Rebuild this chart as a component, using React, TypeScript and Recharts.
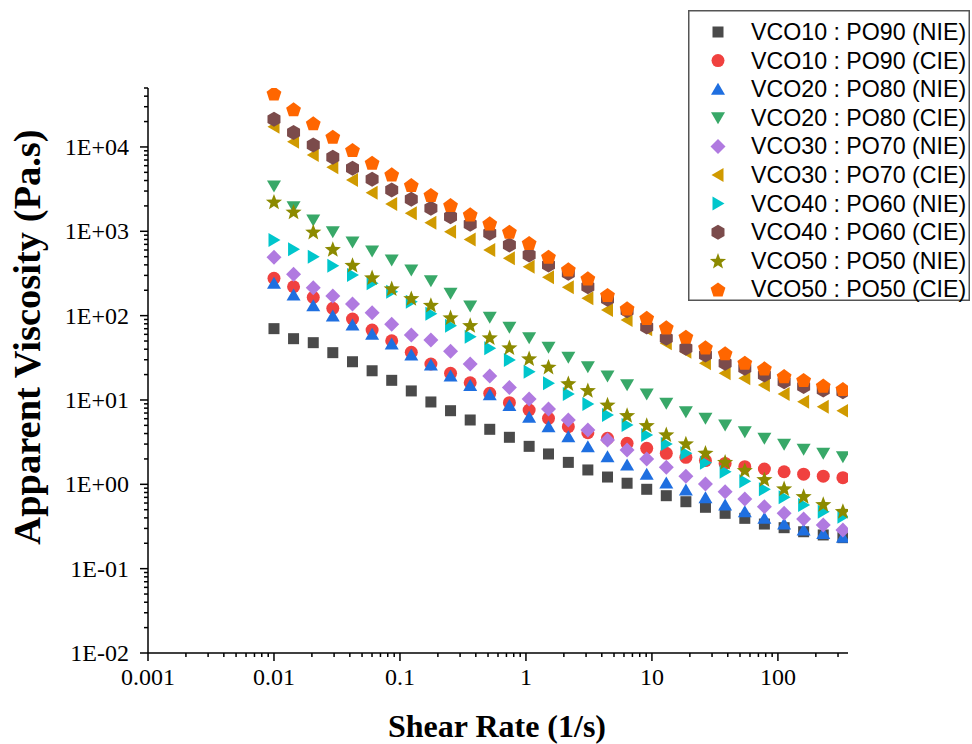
import { Label, Legend, Scatter, ScatterChart, XAxis, YAxis } from "recharts";

// shear rate sweep (1/s), same for every sample
const shearRate = [
  0.01, 0.0143, 0.0205, 0.0293, 0.042, 0.0601, 0.086, 0.123, 0.176, 0.252,
  0.361, 0.516, 0.739, 1.06, 1.51, 2.17, 3.1, 4.44, 6.35, 9.09,
  13.0, 18.6, 26.6, 38.1, 54.6, 78.1, 112, 160, 229, 328,
];

// apparent viscosity (Pa.s)
const vco10po90Nie = [70.1, 53.3, 47.8, 36.4, 28.4, 22.2, 17.1, 12.8, 9.47, 7.46, 5.79, 4.49, 3.61, 2.82, 2.29, 1.82, 1.48, 1.22, 1.03, 0.873, 0.733, 0.622, 0.534, 0.453, 0.395, 0.338, 0.306, 0.274, 0.251, 0.233];
const vco10po90Cie = [277, 220, 165, 122, 91.2, 67.5, 50.4, 36.8, 26.7, 20.7, 16.0, 12.0, 9.28, 7.6, 6.06, 4.82, 4.09, 3.51, 3.06, 2.67, 2.33, 2.09, 1.91, 1.77, 1.62, 1.52, 1.41, 1.32, 1.25, 1.2];
const vco20po80Nie = [242, 176, 131, 99.0, 77.4, 60.1, 46.1, 34.1, 26.0, 19.2, 14.8, 11.5, 8.6, 6.23, 4.82, 3.67, 2.79, 2.12, 1.69, 1.32, 1.04, 0.856, 0.694, 0.568, 0.473, 0.395, 0.338, 0.287, 0.262, 0.235];
const vco20po80Cie = [3445, 1958, 1362, 989, 747, 584, 457, 348, 260, 184, 130, 95.6, 72.7, 54.7, 42.1, 32.1, 24.8, 19.2, 15.2, 11.8, 9.13, 7.26, 6.06, 5.05, 4.2, 3.51, 2.98, 2.6, 2.33, 2.12];
const vco30po70Nie = [492, 309, 214, 171, 137, 108, 78.9, 58.9, 51.4, 37.8, 26.7, 19.2, 14.1, 10.3, 7.81, 5.79, 4.4, 3.35, 2.55, 2.0, 1.59, 1.25, 1.01, 0.817, 0.669, 0.543, 0.453, 0.388, 0.329, 0.287];
const vco30po70Cie = [17400, 11550, 8030, 5740, 4060, 2870, 2110, 1636, 1265, 989, 800, 600, 479, 381, 285, 217, 161, 117, 88.8, 68.9, 47.0, 37.4, 27.2, 20.7, 18.1, 15.0, 11.8, 9.54, 8.32, 7.46];
const vco40po60Nie = [789, 612, 500, 391, 303, 242, 192, 146, 105, 75.8, 56.3, 41.0, 29.8, 21.6, 15.8, 11.8, 8.96, 6.63, 5.05, 3.84, 3.01, 2.33, 1.8, 1.41, 1.09, 0.872, 0.701, 0.568, 0.473, 0.413];
const vco40po60Cie = [21300, 14800, 10550, 7550, 5590, 4140, 3090, 2400, 1875, 1490, 1211, 947, 688, 524, 399, 318, 220, 156, 114, 73.3, 53.9, 41.0, 34.1, 27.2, 23.7, 19.8, 16.5, 14.4, 13.1, 12.5];
const vco50po50Nie = [2245, 1708, 989, 617, 399, 285, 211, 161, 134, 95.6, 77.4, 55.4, 42.1, 31.2, 24.8, 15.8, 13.1, 8.84, 6.63, 5.05, 3.92, 3.06, 2.37, 1.85, 1.48, 1.15, 0.897, 0.727, 0.584, 0.483];
const vco50po50Cie = [43300, 28000, 19100, 13240, 9210, 6510, 4740, 3540, 2700, 2050, 1591, 1245, 989, 727, 500, 354, 277, 176, 122, 94.3, 72.7, 56.3, 42.1, 35.8, 27.7, 23.7, 19.2, 17.3, 14.8, 13.5];

const xMajor = [0.001, 0.01, 0.1, 1, 10, 100];
const xMajorLabels = ["0.001", "0.01", "0.1", "1", "10", "100"];
const yMajor = [0.01, 0.1, 1, 10, 100, 1000, 10000];
const yMajorLabels = ["1E-02", "1E-01", "1E+00", "1E+01", "1E+02", "1E+03", "1E+04"];

const X_DOMAIN: [number, number] = [0.001, 360];
const Y_DOMAIN: [number, number] = [0.01, 50000];

type Kind = "square" | "circle" | "up" | "down" | "diamond" | "left" | "right" | "hexagon" | "star" | "pentagon";

const series: { name: string; values: number[]; color: string; kind: Kind }[] = [
  { name: "VCO10 : PO90 (NIE)", values: vco10po90Nie, color: "#4a4a4a", kind: "square" },
  { name: "VCO10 : PO90 (CIE)", values: vco10po90Cie, color: "#f0413f", kind: "circle" },
  { name: "VCO20 : PO80 (NIE)", values: vco20po80Nie, color: "#1f6fe0", kind: "up" },
  { name: "VCO20 : PO80 (CIE)", values: vco20po80Cie, color: "#38a868", kind: "down" },
  { name: "VCO30 : PO70 (NIE)", values: vco30po70Nie, color: "#b07ae0", kind: "diamond" },
  { name: "VCO30 : PO70 (CIE)", values: vco30po70Cie, color: "#d09a00", kind: "left" },
  { name: "VCO40 : PO60 (NIE)", values: vco40po60Nie, color: "#00c6cc", kind: "right" },
  { name: "VCO40 : PO60 (CIE)", values: vco40po60Cie, color: "#7b4b4b", kind: "hexagon" },
  { name: "VCO50 : PO50 (NIE)", values: vco50po50Nie, color: "#8c8a00", kind: "star" },
  { name: "VCO50 : PO50 (CIE)", values: vco50po50Cie, color: "#ff6600", kind: "pentagon" },
];

// minor ticks at 2..9 of every decade that fits in the domain
function withMinors(majors: number[], max: number) {
  const out = [...majors];
  majors.forEach((m) => {
    for (let k = 2; k <= 9; k++) {
      const v = m * k;
      if (v <= max * 1.0001) out.push(v);
    }
  });
  return out;
}
const xTicks = withMinors(xMajor, X_DOMAIN[1]);
const yTicks = withMinors(yMajor, Y_DOMAIN[1]);

const serif = "'Liberation Serif', 'Times New Roman', serif";
const sans = "'Liberation Sans', Arial, sans-serif";

function majorIndex(list: number[], v: number) {
  return list.findIndex((m) => Math.abs(m - v) < m * 1e-6);
}

function XTick(props: any) {
  const { x, y, payload } = props;
  const i = majorIndex(xMajor, payload.value);
  return (
    <g>
      <line x1={x} x2={x} y1={y} y2={y + (i >= 0 ? 8 : 4)} stroke="#000" strokeWidth={1.5} />
      {i >= 0 && (
        <text x={x} y={y + 32} textAnchor="middle" fontFamily={serif} fontSize={24} fill="#000">
          {xMajorLabels[i]}
        </text>
      )}
    </g>
  );
}

function YTick(props: any) {
  const { x, y, payload } = props;
  const i = majorIndex(yMajor, payload.value);
  return (
    <g>
      <line x1={x} x2={x - (i >= 0 ? 8 : 4)} y1={y} y2={y} stroke="#000" strokeWidth={1.5} />
      {i >= 0 && (
        <text x={x - 19} y={y + 8} textAnchor="end" fontFamily={serif} fontSize={24} fill="#000">
          {yMajorLabels[i]}
        </text>
      )}
    </g>
  );
}

function Marker({ cx, cy, kind, color }: { cx: number; cy: number; kind: Kind; color: string }) {
  const poly = (pts: [number, number][]) => (
    <polygon points={pts.map(([dx, dy]) => `${cx + dx},${cy + dy}`).join(" ")} fill={color} />
  );
  const ring = (n: number, r: number, start: number) =>
    Array.from({ length: n }, (_, k) => {
      const a = start + (k * 2 * Math.PI) / n;
      return [r * Math.cos(a), r * Math.sin(a)] as [number, number];
    });
  switch (kind) {
    case "square":
      return <rect x={cx - 5.5} y={cy - 5.5} width={11} height={11} fill={color} />;
    case "circle":
      return <circle cx={cx} cy={cy} r={6.5} fill={color} />;
    case "up":
      return poly([[0, -6.5], [7, 5.5], [-7, 5.5]]);
    case "down":
      return poly([[0, 6.5], [7, -5.5], [-7, -5.5]]);
    case "diamond":
      return poly([[0, -7.5], [7.5, 0], [0, 7.5], [-7.5, 0]]);
    case "left":
      return poly([[-6.5, 0], [5.5, -7], [5.5, 7]]);
    case "right":
      return poly([[6.5, 0], [-5.5, -7], [-5.5, 7]]);
    case "hexagon":
      return poly(ring(6, 7.5, -Math.PI / 2));
    case "pentagon":
      return poly(ring(5, 7.8, -Math.PI / 2).map(([a, b]) => [a, b + 0.8] as [number, number]));
    case "star": {
      const pts: [number, number][] = [];
      for (let k = 0; k < 10; k++) {
        const r = k % 2 === 0 ? 8.5 : 3.6;
        const a = -Math.PI / 2 + (k * Math.PI) / 5;
        pts.push([r * Math.cos(a), r * Math.sin(a) + 0.8]);
      }
      return poly(pts);
    }
  }
  return null;
}

function LegendBox() {
  return (
    <svg width={283} height={292}>
      <rect x={0.75} y={0.75} width={280.5} height={289.5} fill="#fff" stroke="#555" strokeWidth={1.5} />
      {series.map((s, i) => {
        const cy = 22 + i * 28.6;
        return (
          <g key={s.name}>
            <Marker cx={30} cy={cy} kind={s.kind} color={s.color} />
            <text x={63} y={cy + 8} fontFamily={sans} fontSize={23.2} fill="#000">
              {s.name}
            </text>
          </g>
        );
      })}
    </svg>
  );
}

export default function App() {
  return (
    <div style={{ position: "absolute", left: 0, top: 0, background: "#fff" }}>
      <ScatterChart width={972} height={744} margin={{ top: 88, right: 124, bottom: 0, left: 0 }}>
        <XAxis
          type="number"
          dataKey="x"
          scale="log"
          domain={X_DOMAIN}
          allowDataOverflow
          ticks={xTicks}
          interval={0}
          height={91}
          tickSize={0}
          tickMargin={0}
          tickLine={false}
          tick={<XTick />}
          axisLine={{ stroke: "#000", strokeWidth: 1.5 }}
        >
          <Label
            content={() => (
              <text x={497} y={737} textAnchor="middle" fontFamily={serif} fontWeight="bold" fontSize={32} fill="#000">
                Shear Rate (1/s)
              </text>
            )}
          />
        </XAxis>
        <YAxis
          type="number"
          dataKey="y"
          scale="log"
          domain={Y_DOMAIN}
          allowDataOverflow
          ticks={yTicks}
          interval={0}
          width={148}
          tickSize={0}
          tickMargin={0}
          tickLine={false}
          tick={<YTick />}
          axisLine={{ stroke: "#000", strokeWidth: 1.5 }}
        >
          <Label
            content={() => (
              <text
                x={0}
                y={0}
                transform="translate(40,337) rotate(-90)"
                textAnchor="middle"
                fontFamily={serif}
                fontWeight="bold"
                fontSize={38.5}
                fill="#000"
              >
                Apparent Viscosity (Pa.s)
              </text>
            )}
          />
        </YAxis>
        <Legend
          layout="vertical"
          align="center"
          verticalAlign="middle"
          wrapperStyle={{ left: 688, top: 10, width: 283, height: 292 }}
          content={() => <LegendBox />}
        />
        {series.map((s) => (
          <Scatter
            key={s.name}
            name={s.name}
            data={shearRate.map((x, i) => ({ x, y: s.values[i] }))}
            isAnimationActive={false}
            shape={(p: any) => <Marker cx={p.cx} cy={p.cy} kind={s.kind} color={s.color} />}
          />
        ))}
      </ScatterChart>
    </div>
  );
}
